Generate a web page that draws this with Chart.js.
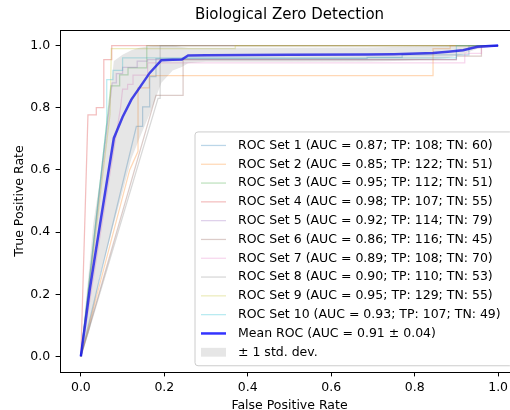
<!DOCTYPE html>
<html>
<head>
<meta charset="utf-8">
<script src="https://cdn.jsdelivr.net/npm/chart.js@4.4.1/dist/chart.umd.min.js"></script>
<style>
html,body{margin:0;padding:0;overflow:hidden;background:#ffffff;width:510px;height:410px;}
canvas{display:block;}
</style>
</head>
<body>
<canvas id="c" width="520" height="410"></canvas>
<script>
// ---- text ----
const chartTitle = 'Biological Zero Detection';
const xLabel = 'False Positive Rate';
const yLabel = 'True Positive Rate';
const tickValues = [0, 0.2, 0.4, 0.6, 0.8, 1.0];

// ---- per-set statistics (legend) ----
const rocAuc = [0.87, 0.85, 0.95, 0.98, 0.92, 0.86, 0.89, 0.90, 0.95, 0.93];
const rocTp = [108, 122, 112, 107, 114, 116, 108, 110, 129, 107];
const rocTn = [60, 51, 51, 55, 79, 45, 70, 53, 55, 49];
const meanAuc = 0.91;
const stdAuc = 0.04;

// ---- ROC curves (false positive rate / true positive rate) ----
const fpr1 = [0, 0.133, 0.148, 0.148, 0.165, 0.165, 0.18, 0.18, 0.686, 0.686, 0.77, 0.77, 0.93, 0.93, 1];
const tpr1 = [0, 0.74, 0.74, 0.803, 0.803, 0.9, 0.9, 0.958, 0.958, 0.962, 0.962, 0.97, 0.97, 1, 1];
const fpr2 = [0, 0.117, 0.137, 0.137, 0.164, 0.164, 0.844, 0.844, 0.885, 0.885, 1];
const tpr2 = [0, 0.6, 0.66, 0.864, 0.864, 0.903, 0.903, 0.99, 0.99, 1, 1];
const fpr3 = [0, 0.072, 0.093, 0.093, 0.113, 0.113, 0.158, 0.158, 1];
const tpr3 = [0, 0.87, 0.87, 0.906, 0.906, 0.928, 0.928, 1, 1];
const fpr4 = [0, 0.017, 0.037, 0.037, 0.055, 0.055, 0.074, 0.074, 1];
const tpr4 = [0, 0.777, 0.777, 0.8, 0.8, 0.955, 0.955, 1, 1];
const fpr5 = [0, 0.075, 0.085, 0.085, 0.1, 0.1, 0.135, 0.135, 0.16, 0.16, 0.9, 0.9, 1];
const tpr5 = [0, 0.88, 0.88, 0.91, 0.91, 0.93, 0.93, 0.95, 0.95, 0.955, 0.955, 0.985, 1];
const fpr6 = [0, 0.18, 0.245, 0.245, 0.9, 0.9, 0.96, 0.96, 1];
const tpr6 = [0, 0.84, 0.84, 0.955, 0.955, 0.966, 0.966, 1, 1];
const fpr7 = [0, 0.095, 0.1, 0.112, 0.112, 0.125, 0.125, 0.16, 0.16, 0.92, 0.92, 0.96, 0.96, 1];
const tpr7 = [0, 0.8, 0.86, 0.86, 0.875, 0.875, 0.905, 0.905, 0.944, 0.944, 0.975, 0.975, 1, 1];
const fpr8 = [0, 0.185, 0.19, 0.19, 1];
const tpr8 = [0, 0.83, 0.83, 1, 1];
const fpr9 = [0, 0.07, 0.073, 0.37, 0.37, 1];
const tpr9 = [0, 0.78, 0.99, 0.99, 1, 1];
const fpr10 = [0, 0.062, 0.062, 0.077, 0.077, 0.1, 0.1, 0.9, 0.9, 1];
const tpr10 = [0, 0.75, 0.89, 0.89, 0.92, 0.92, 0.96, 0.96, 1, 1];

// ---- mean ROC and +/- 1 std band ----
const meanFpr = [0, 0.01, 0.021, 0.03, 0.045, 0.06, 0.079, 0.1, 0.121, 0.14, 0.165, 0.193, 0.22, 0.242, 0.257, 0.3, 0.5, 0.686, 0.75, 0.844, 0.88, 0.916, 0.95, 1.0];
const meanTpr = [0, 0.101, 0.213, 0.29, 0.417, 0.543, 0.702, 0.77, 0.826, 0.863, 0.912, 0.953, 0.954, 0.955, 0.968, 0.969, 0.97, 0.971, 0.972, 0.976, 0.98, 0.985, 0.996, 1.0];
const stdUpper = [0, 0.15, 0.3, 0.43, 0.56, 0.72, 0.95, 0.97, 0.985, 0.993, 0.998, 1, 1, 0.995, 0.993, 0.993, 0.993, 0.994, 0.995, 0.997, 0.998, 0.998, 1, 1];
const stdLower = [0, 0.04, 0.085, 0.146, 0.256, 0.33, 0.427, 0.53, 0.636, 0.7, 0.78, 0.88, 0.92, 0.931, 0.943, 0.948, 0.948, 0.949, 0.95, 0.955, 0.96, 0.972, 0.99, 1];

// ---- styling ----
const palette = ['#1f77b4', '#ff7f0e', '#2ca02c', '#d62728', '#9467bd', '#8c564b', '#e377c2', '#7f7f7f', '#bcbd22', '#17becf'];
function withAlpha(hex, a) {
  const n = parseInt(hex.slice(1), 16);
  return `rgba(${(n >> 16) & 255},${(n >> 8) & 255},${n & 255},${a})`;
}

const rocFprs = [fpr1, fpr2, fpr3, fpr4, fpr5, fpr6, fpr7, fpr8, fpr9, fpr10];
const rocTprs = [tpr1, tpr2, tpr3, tpr4, tpr5, tpr6, tpr7, tpr8, tpr9, tpr10];
const toPts = (xs, ys) => xs.map((x, i) => ({x: x, y: ys[i]}));

const datasets = rocFprs.map((f, i) => ({
  label: `ROC Set ${i + 1} (AUC = ${rocAuc[i].toFixed(2)}; TP: ${rocTp[i]}; TN: ${rocTn[i]})`,
  data: toPts(f, rocTprs[i]),
  borderColor: withAlpha(palette[i], 0.3),
  backgroundColor: withAlpha(palette[i], 0.3),
  borderWidth: 1.25,
  pointRadius: 0,
  fill: false,
  tension: 0,
  order: 30 - i
}));
datasets.push({
  label: `Mean ROC (AUC = ${meanAuc.toFixed(2)} \u00b1 ${stdAuc.toFixed(2)})`,
  data: toPts(meanFpr, meanTpr),
  borderColor: 'rgba(0,0,255,0.8)',
  backgroundColor: 'rgba(0,0,255,0.8)',
  borderWidth: 2.5,
  pointRadius: 0,
  fill: false,
  tension: 0,
  order: 5
});
datasets.push({
  label: '\u00b1 1 std. dev.',
  data: toPts(meanFpr, stdUpper),
  borderColor: 'rgba(0,0,0,0)',
  backgroundColor: 'rgba(128,128,128,0.2)',
  borderWidth: 0,
  pointRadius: 0,
  fill: '+1',
  tension: 0,
  order: 1,
  isBand: true
});
datasets.push({
  label: '',
  data: toPts(meanFpr, stdLower),
  borderColor: 'rgba(0,0,0,0)',
  backgroundColor: 'rgba(0,0,0,0)',
  borderWidth: 0,
  pointRadius: 0,
  fill: false,
  tension: 0,
  order: 2
});

function alignPx(v) { return Math.round(v - 0.5) + 0.5; }

const framePlugin = {
  id: 'frameBox',
  afterDatasetsDraw(chart) {
    const ctx = chart.ctx, a = chart.chartArea;
    ctx.save();
    ctx.strokeStyle = '#000';
    ctx.lineWidth = 1;
    const l = alignPx(a.left), r = alignPx(a.right), t = alignPx(a.top), b = alignPx(a.bottom);
    ctx.strokeRect(l, t, r - l, b - t);
    ctx.restore();
  }
};

const legendPlugin = {
  id: 'boxLegend',
  afterDraw(chart) {
    const ctx = chart.ctx, a = chart.chartArea;
    const items = chart.data.datasets.filter(d => d.label);
    const rowH = 18.8, edge = 13.5;
    const right = a.right - 6.25, bottom = a.bottom - 6.25;
    const h = 2 * edge + (items.length - 1) * rowH;
    const top = bottom - h;
    const left = a.left + 135;
    ctx.save();
    const rr = 3;
    ctx.beginPath();
    ctx.moveTo(left + rr, top);
    ctx.lineTo(right - rr, top);
    ctx.arcTo(right, top, right, top + rr, rr);
    ctx.lineTo(right, bottom - rr);
    ctx.arcTo(right, bottom, right - rr, bottom, rr);
    ctx.lineTo(left + rr, bottom);
    ctx.arcTo(left, bottom, left, bottom - rr, rr);
    ctx.lineTo(left, top + rr);
    ctx.arcTo(left, top, left + rr, top, rr);
    ctx.closePath();
    ctx.fillStyle = 'rgba(255,255,255,0.8)';
    ctx.fill();
    ctx.strokeStyle = '#cccccc';
    ctx.lineWidth = 1;
    ctx.stroke();
    ctx.font = '12.5px "DejaVu Sans"';
    ctx.textBaseline = 'middle';
    ctx.textAlign = 'left';
    const hx0 = left + 6, hx1 = left + 31, tx = left + 43;
    items.forEach((d, i) => {
      const cy = top + edge + i * rowH;
      if (d.isBand) {
        ctx.fillStyle = d.backgroundColor;
        ctx.fillRect(hx0, cy - 4.4, hx1 - hx0, 8.8);
      } else {
        ctx.strokeStyle = d.borderColor;
        ctx.lineWidth = d.borderWidth;
        ctx.beginPath();
        ctx.moveTo(hx0, cy);
        ctx.lineTo(hx1, cy);
        ctx.stroke();
      }
      ctx.fillStyle = '#000';
      ctx.fillText(d.label, tx, cy);
    });
    ctx.restore();
  }
};

Chart.defaults.font.family = '"DejaVu Sans", sans-serif';
Chart.defaults.color = '#000';

const axisCommon = {
  type: 'linear',
  min: -0.05,
  max: 1.05,
  afterBuildTicks(scale) { scale.ticks = tickValues.map(v => ({value: v})); },
  ticks: {
    font: {size: 12.5},
    color: '#000',
    padding: 4,
    autoSkip: false,
    maxRotation: 0,
    callback: v => Number(v).toFixed(1)
  },
  grid: {display: true, drawOnChartArea: false, drawTicks: true, tickLength: 4.4, color: '#000', lineWidth: 1},
  border: {display: true, color: '#000', width: 1}
};

new Chart(document.getElementById('c'), {
  type: 'line',
  data: {datasets: datasets},
  options: {
    responsive: false,
    animation: false,
    devicePixelRatio: 1,
    layout: {padding: {left: 0, right: 1, top: 0, bottom: 0}},
    plugins: {
      legend: {display: false},
      tooltip: {enabled: false},
      title: {
        display: true,
        text: chartTitle,
        fullSize: false,
        color: '#000',
        font: {size: 15, weight: 'normal'},
        padding: {top: 6, bottom: 6}
      }
    },
    scales: {
      x: Object.assign({}, axisCommon, {
        position: 'bottom',
        afterFit(scale) { scale.height = 38; },
        title: {display: true, text: xLabel, color: '#000', font: {size: 12.5, lineHeight: 1}, padding: {top: 0, bottom: -1.5}}
      }),
      y: Object.assign({}, axisCommon, {
        position: 'left',
        ticks: Object.assign({}, axisCommon.ticks, {padding: 5.5}),
        afterFit(scale) { scale.width = 60; },
        title: {display: true, text: yLabel, color: '#000', font: {size: 12.5}, padding: {top: 12.5, bottom: 0}}
      })
    }
  },
  plugins: [framePlugin, legendPlugin]
});
</script>
</body>
</html>
